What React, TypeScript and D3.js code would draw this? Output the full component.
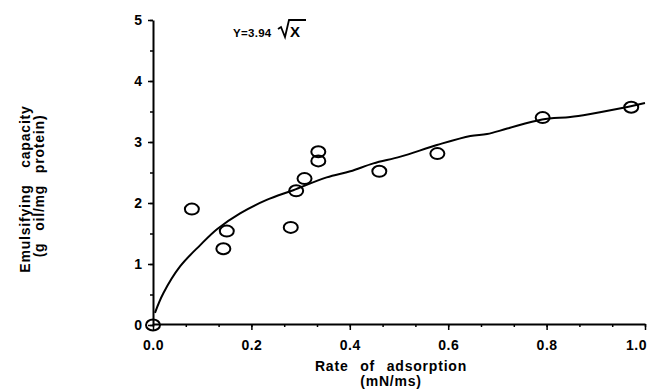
import { useEffect, useRef } from "react";
import * as d3 from "d3";

// x tick labels and y tick labels
const xTicks = [0, 0.2, 0.4, 0.6, 0.8, 1.0];
const yTicks = [0, 1, 2, 3, 4, 5];

// measured points: rate of adsorption (mN/ms) vs emulsifying capacity
const rate = [0, 0.079, 0.15, 0.143, 0.28, 0.291, 0.308, 0.336, 0.336, 0.46, 0.578, 0.792, 0.972];
const capacity = [0, 1.9, 1.54, 1.25, 1.6, 2.2, 2.4, 2.84, 2.69, 2.52, 2.81, 3.4, 3.57];

// fitted curve
const curveX = [0.004, 0.021, 0.055, 0.096, 0.13, 0.177, 0.231, 0.285, 0.353, 0.401, 0.448, 0.503, 0.577, 0.645, 0.679, 0.72, 0.791, 0.848, 0.889, 0.943, 1.0];
const curveY = [0.2, 0.52, 0.96, 1.31, 1.57, 1.83, 2.05, 2.21, 2.42, 2.52, 2.65, 2.76, 2.95, 3.1, 3.13, 3.22, 3.37, 3.41, 3.46, 3.54, 3.64];

const FONT = "'Liberation Sans', Arial, sans-serif";

export default function App() {
  const ref = useRef<SVGSVGElement>(null);

  useEffect(() => {
    const svg = d3.select(ref.current);
    svg.selectAll("*").remove();

    const x = d3.scaleLinear().domain([0, 1]).range([153, 645]);
    const y = d3.scaleLinear().domain([0, 5]).range([325, 20]);

    const g = svg.append("g").attr("font-family", FONT);

    // minor x ticks (1/15 steps)
    const xMinor = d3.range(0, 16).map((i) => i / 15);
    g.append("g")
      .attr("transform", `translate(0,${y(0) - 1})`)
      .call(d3.axisBottom(x).tickValues(xMinor).tickSize(3).tickFormat(() => ""))
      .call((a) => a.select(".domain").remove())
      .selectAll("line")
      .attr("stroke-width", 1.5);

    // x axis
    const xa = g
      .append("g")
      .attr("transform", `translate(0,${y(0) - 1})`)
      .call(d3.axisBottom(x).tickValues(xTicks).tickSize(6).tickSizeOuter(0).tickPadding(10).tickFormat(d3.format(".1f")));
    xa.select(".domain").attr("stroke-width", 2);
    xa.selectAll("line").attr("stroke-width", 1.5);
    xa.selectAll("text")
      .attr("font-size", 14)
      .attr("font-weight", "bold")
      .attr("font-family", FONT)
      .attr("letter-spacing", 0.5)
      .attr("dx", (d) => ((d as number) === 1 ? -9 : 0));

    // minor y ticks
    const yMinor = d3.range(0, 11).map((i) => i / 2);
    g.append("g")
      .attr("transform", `translate(${x(0)},0)`)
      .call(d3.axisLeft(y).tickValues(yMinor).tickSize(3).tickFormat(() => ""))
      .call((a) => a.select(".domain").remove())
      .selectAll("line")
      .attr("stroke-width", 1.5);

    // y axis
    const ya = g
      .append("g")
      .attr("transform", `translate(${x(0)},0)`)
      .call(d3.axisLeft(y).tickValues(yTicks).tickSize(5).tickSizeOuter(0).tickPadding(6).tickFormat(d3.format("d")));
    ya.select(".domain").attr("stroke-width", 2);
    ya.selectAll("line").attr("stroke-width", 1.5);
    ya.selectAll("text").attr("font-size", 14).attr("font-weight", "bold").attr("font-family", FONT);

    // fitted curve
    const pts = curveX.map((v, i) => [v, curveY[i]] as [number, number]);
    g.append("path")
      .attr("d", d3.line<[number, number]>().x((d) => x(d[0])).y((d) => y(d[1])).curve(d3.curveCatmullRom)(pts))
      .attr("fill", "none")
      .attr("stroke", "#000")
      .attr("stroke-width", 2);

    // data points
    g.selectAll("ellipse.pt")
      .data(rate.map((v, i) => [v, capacity[i]]))
      .enter()
      .append("ellipse")
      .attr("class", "pt")
      .attr("cx", (d) => x(d[0]))
      .attr("cy", (d) => y(d[1]))
      .attr("rx", 7)
      .attr("ry", 5.5)
      .attr("fill", "none")
      .attr("stroke", "#000")
      .attr("stroke-width", 2);

    // equation: Y=3.94 √X
    g.append("text")
      .attr("x", 233)
      .attr("y", 37)
      .attr("font-weight", "bold")
      .attr("font-size", 11.5)
      .attr("letter-spacing", 0.3)
      .text("Y=3.94");
    g.append("path")
      .attr("d", "M278,29 L281,27 L285,37 L289,20 L306,20")
      .attr("fill", "none")
      .attr("stroke", "#000")
      .attr("stroke-width", 1.8);
    g.append("text")
      .attr("x", 290)
      .attr("y", 37)
      .attr("font-weight", "bold")
      .attr("font-size", 15)
      .text("X");

    // x title
    const xt = g
      .append("text")
      .attr("text-anchor", "middle")
      .attr("font-weight", "bold")
      .attr("font-size", 14)
      .attr("letter-spacing", 0.8);
    xt.append("tspan").attr("x", 391).attr("y", 371).attr("word-spacing", 7).text("Rate of adsorption");
    xt.append("tspan").attr("x", 391).attr("y", 386).text("(mN/ms)");

    // y title
    const yt = g
      .append("text")
      .attr("text-anchor", "middle")
      .attr("font-weight", "bold")
      .attr("font-size", 14)
      .attr("letter-spacing", 0.8)
      .attr("transform", "rotate(-90)");
    yt.append("tspan").attr("x", -189).attr("y", 30).attr("word-spacing", 12).text("Emulsifying capacity");
    yt.append("tspan").attr("x", -186).attr("y", 44).attr("word-spacing", 7).text("(g oil/mg protein)");
  }, []);

  return (
    <svg
      ref={ref}
      width={652}
      height={391}
      style={{ position: "absolute", left: 0, top: 0, background: "#fff" }}
    />
  );
}
